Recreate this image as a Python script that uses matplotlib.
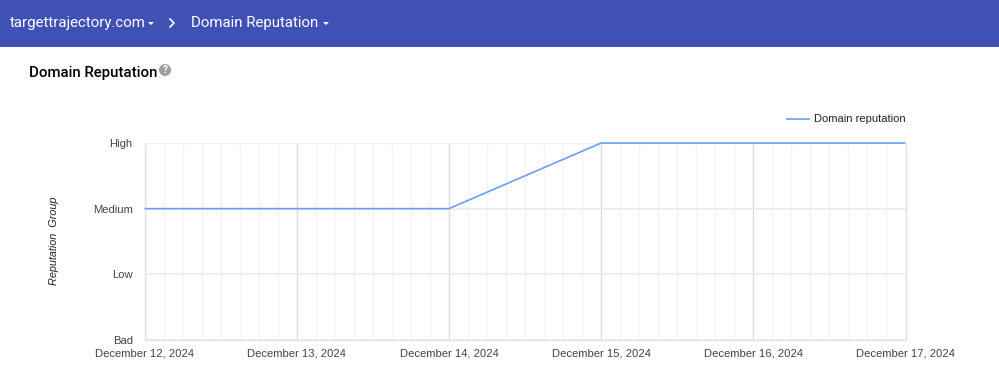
import matplotlib
matplotlib.use("Agg")
import matplotlib.pyplot as plt
import matplotlib.dates as mdates
from matplotlib.patches import Rectangle, Circle, Polygon
from datetime import datetime

# Chart data
dates = [datetime(2024, 12, d) for d in [12, 13, 14, 15, 16, 17]]
reputation = [2, 2, 2, 3, 3, 3]
group_labels = ["Bad", "Low", "Medium", "High"]
date_labels = ["December 12, 2024", "December 13, 2024", "December 14, 2024",
               "December 15, 2024", "December 16, 2024", "December 17, 2024"]

W, H = 999, 391
fig = plt.figure(figsize=(W / 100, H / 100), dpi=100, facecolor="white")

# Axes placed in pixel coords of the screenshot
left, right, top, bottom = 144.5, 905.5, 143, 340
ax = fig.add_axes([left / W, 1 - bottom / H, (right - left) / W, (bottom - top) / H])

ax.plot(dates, reputation, color="#6d9ef5", linewidth=1.2, clip_on=False, zorder=5,
        solid_joinstyle="miter", solid_capstyle="butt", label="Domain reputation")

ax.set_xlim(dates[0], dates[-1])
ax.set_ylim(0, 3)
ax.set_yticks(range(len(group_labels)))
ax.set_yticklabels(group_labels, fontname="Liberation Sans", fontsize=8.1, color="#444444")
ax.set_xticks(dates)
ax.set_xticklabels(date_labels, fontname="Liberation Sans", fontsize=8.1, color="#444444")
ax.xaxis.set_minor_locator(mdates.HourLocator(byhour=range(0, 24, 3)))
ax.tick_params(axis="both", which="both", length=0)
ax.tick_params(axis="y", pad=8.5)
ax.tick_params(axis="x", pad=6)

ax.grid(True, axis="x", which="minor", color="#f4f4f4", linewidth=1)
ax.grid(True, axis="x", which="major", color="#dcdcdc", linewidth=1)
ax.grid(True, axis="y", which="major", color="#ebebeb", linewidth=1.2)
ax.set_axisbelow(True)
for side in ax.spines:
    ax.spines[side].set_color("#e4e4e4")
    ax.spines[side].set_linewidth(1)
ax.spines["top"].set_color("#f0f0f0")

fig.text(54 / W, 1 - 241 / H, "Reputation  Group", rotation=90, ha="center", va="center",
         fontname="Liberation Sans", fontsize=7.8, style="italic", color="#222222")

# Legend
overlay = fig.add_axes([0, 0, 1, 1], facecolor="none")
overlay.set_xlim(0, W)
overlay.set_ylim(H, 0)
overlay.axis("off")
overlay.plot([787, 809], [119, 119], color="#6d9ef5", linewidth=1.2)
overlay.text(814, 119, "Domain reputation", fontname="Liberation Sans", fontsize=8.05,
             color="#222222", va="center", ha="left")

# Header bar
overlay.add_patch(Rectangle((0, 0), W, 47, facecolor="#3f51b5", edgecolor="none"))
overlay.text(10, 23.5, "targettrajectory.com", fontname="Roboto", fontsize=10.85, color="white",
             va="center", ha="left")
overlay.text(191, 23.5, "Domain Reputation", fontname="Roboto", fontsize=10.85, color="white",
             va="center", ha="left")
for cx in (151, 326):
    overlay.add_patch(Polygon([(cx - 3, 22), (cx + 3, 22), (cx, 25)], facecolor="white", edgecolor="none"))
overlay.plot([170, 174, 170], [19, 23, 27], color="white", linewidth=1.2)

# Section title and help icon
overlay.text(29, 72.5, "Domain Reputation", fontname="Roboto", fontsize=10.85, fontweight="medium",
             color="black", va="center", ha="left")
overlay.add_patch(Circle((165, 70), 6, facecolor="#9e9e9e", edgecolor="none"))
overlay.text(165, 70, "?", fontname="Roboto", fontsize=7, fontweight="bold", color="white",
             va="center", ha="center")

fig.savefig("out.png", dpi=100)
